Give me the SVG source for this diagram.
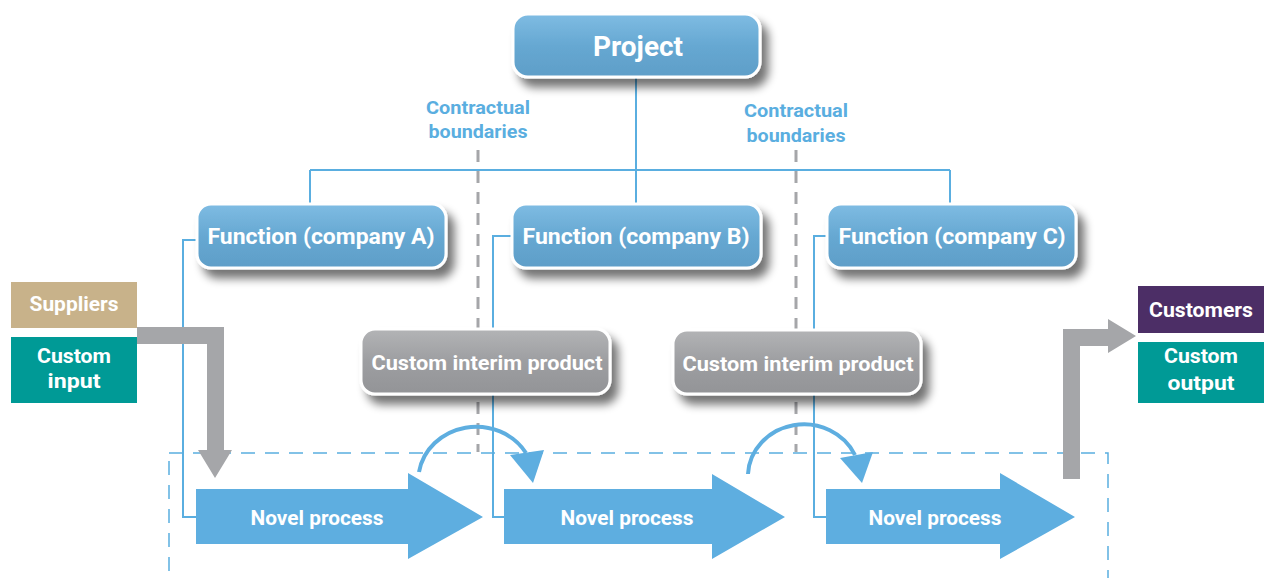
<svg xmlns="http://www.w3.org/2000/svg" width="1267" height="578" viewBox="0 0 1267 578">
<defs>
<linearGradient id="gBlue" x1="0" y1="0" x2="0" y2="1">
<stop offset="0" stop-color="#7fbce3"/>
<stop offset="0.5" stop-color="#66a8d2"/>
<stop offset="1" stop-color="#5f9ec8"/>
</linearGradient>
<linearGradient id="gGrey" x1="0" y1="0" x2="0" y2="1">
<stop offset="0" stop-color="#b3b4b6"/>
<stop offset="0.5" stop-color="#9d9ea1"/>
<stop offset="1" stop-color="#939497"/>
</linearGradient>
<filter id="shadow" x="-10%" y="-20%" width="130%" height="160%">
<feGaussianBlur in="SourceAlpha" stdDeviation="5"/>
<feOffset dx="7" dy="9" result="b"/>
<feComponentTransfer><feFuncA type="linear" slope="0.55"/></feComponentTransfer>
<feMerge><feMergeNode/><feMergeNode in="SourceGraphic"/></feMerge>
</filter>
</defs>
<style>
.box{stroke:#ffffff;stroke-width:3;filter:url(#shadow)}
.blue{fill:url(#gBlue)}
.grey{fill:url(#gGrey)}
.t{font-family:Roboto,"Liberation Sans",sans-serif;font-weight:bold;fill:#ffffff;text-anchor:middle}
.lbl{font-family:Roboto,"Liberation Sans",sans-serif;font-weight:bold;fill:#5aaee0;text-anchor:middle;font-size:19px}
.ln{fill:none;stroke:#5aaee0;stroke-width:2}
.bound{fill:none;stroke:#a5a6a9;stroke-width:3;stroke-dasharray:12 9}
.frame{fill:none;stroke:#5aaee0;stroke-width:1.5;stroke-dasharray:14 10}
.np{fill:#5eaee0}
.gar{fill:#a5a6a9}
.arc{fill:none;stroke:#5eaee0;stroke-width:4}
</style>

<g id="connectors">
<path class="ln" d="M636,77 V170 M310,170 H950 M310,170 V205 M636,170 V205 M950,170 V205"/>
<path class="ln" d="M197,240 H183 V517 H197"/>
<path class="ln" d="M512,236 H493 V517 H505"/>
<path class="ln" d="M827,236 H814 V517 H826"/>
<path class="bound" d="M478,150 V452"/>
<path class="bound" d="M796,150 V452"/>
<rect class="frame" x="169" y="453" width="939" height="140"/>
</g>

<g id="label-boundary-1">
<text class="lbl" x="478" y="114" textLength="104" lengthAdjust="spacingAndGlyphs">Contractual</text>
<text class="lbl" x="478" y="138" textLength="99" lengthAdjust="spacingAndGlyphs">boundaries</text>
</g>
<g id="label-boundary-2">
<text class="lbl" x="796" y="117" textLength="104" lengthAdjust="spacingAndGlyphs">Contractual</text>
<text class="lbl" x="796" y="142" textLength="99" lengthAdjust="spacingAndGlyphs">boundaries</text>
</g>

<g id="project">
<rect class="box blue" x="513" y="14" width="247" height="63" rx="15"/>
<text class="t" x="638" y="56" font-size="27" textLength="90" lengthAdjust="spacingAndGlyphs">Project</text>
</g>
<g id="function-a">
<rect class="box blue" x="197" y="204" width="249" height="64" rx="14"/>
<text class="t" x="321" y="244" font-size="22" textLength="227" lengthAdjust="spacingAndGlyphs">Function (company A)</text>
</g>
<g id="function-b">
<rect class="box blue" x="512" y="204" width="249" height="64" rx="14"/>
<text class="t" x="636" y="244" font-size="22" textLength="227" lengthAdjust="spacingAndGlyphs">Function (company B)</text>
</g>
<g id="function-c">
<rect class="box blue" x="827" y="204" width="249" height="64" rx="14"/>
<text class="t" x="952" y="244" font-size="22" textLength="227" lengthAdjust="spacingAndGlyphs">Function (company C)</text>
</g>
<g id="interim-1">
<rect class="box grey" x="361" y="329" width="249" height="65" rx="14"/>
<text class="t" x="487" y="370" font-size="21" textLength="231" lengthAdjust="spacingAndGlyphs">Custom interim product</text>
</g>
<g id="interim-2">
<rect class="box grey" x="673" y="330" width="248" height="64" rx="14"/>
<text class="t" x="798" y="371" font-size="21" textLength="231" lengthAdjust="spacingAndGlyphs">Custom interim product</text>
</g>

<g id="suppliers">
<rect x="11" y="282" width="126" height="46" fill="#c8b28a"/>
<text class="t" x="74" y="311" font-size="21" textLength="89" lengthAdjust="spacingAndGlyphs">Suppliers</text>
</g>
<g id="custom-input">
<rect x="11" y="337" width="126" height="66" fill="#009a96"/>
<text class="t" x="74" y="363" font-size="21" textLength="74" lengthAdjust="spacingAndGlyphs">Custom</text>
<text class="t" x="74" y="388" font-size="21" textLength="53" lengthAdjust="spacingAndGlyphs">input</text>
</g>
<g id="customers">
<rect x="1138" y="286" width="126" height="47" fill="#4c2e66"/>
<text class="t" x="1201" y="317" font-size="21" textLength="104" lengthAdjust="spacingAndGlyphs">Customers</text>
</g>
<g id="custom-output">
<rect x="1138" y="342" width="126" height="61" fill="#009a96"/>
<text class="t" x="1201" y="363" font-size="21" textLength="74" lengthAdjust="spacingAndGlyphs">Custom</text>
<text class="t" x="1201" y="390" font-size="21" textLength="67" lengthAdjust="spacingAndGlyphs">output</text>
</g>

<g id="supply-arrow">
<path class="gar" d="M137,327 H224 V450 H232 L215,478 L198,450 H207 V344 H137 Z"/>
</g>
<g id="customer-arrow">
<path class="gar" d="M1063,479 V329 H1108 V319 L1136,336 L1108,353 V346 H1080 V479 Z"/>
</g>

<g id="novel-1">
<path class="np" d="M196,489 H408 V473 L483,517 L408,559 V544 H196 Z"/>
<text class="t" x="317" y="525" font-size="21" textLength="133" lengthAdjust="spacingAndGlyphs">Novel process</text>
</g>
<g id="novel-2">
<path class="np" d="M504,489 H712 V474 L785,517 L712,559 V544 H504 Z"/>
<text class="t" x="627" y="525" font-size="21" textLength="133" lengthAdjust="spacingAndGlyphs">Novel process</text>
</g>
<g id="novel-3">
<path class="np" d="M826,489 H1000 V473 L1075,517 L1000,559 V544 H826 Z"/>
<text class="t" x="935" y="525" font-size="21" textLength="133" lengthAdjust="spacingAndGlyphs">Novel process</text>
</g>

<g id="handover-1">
<path class="arc" d="M419,472 A58,54 0 0 1 526,453"/>
<polygon class="np" points="510,455 544,450 533,483"/>
</g>
<g id="handover-2">
<path class="arc" d="M748,474 A56,52 0 0 1 855,455"/>
<polygon class="np" points="840,458 873,452 862,483"/>
</g>
</svg>
